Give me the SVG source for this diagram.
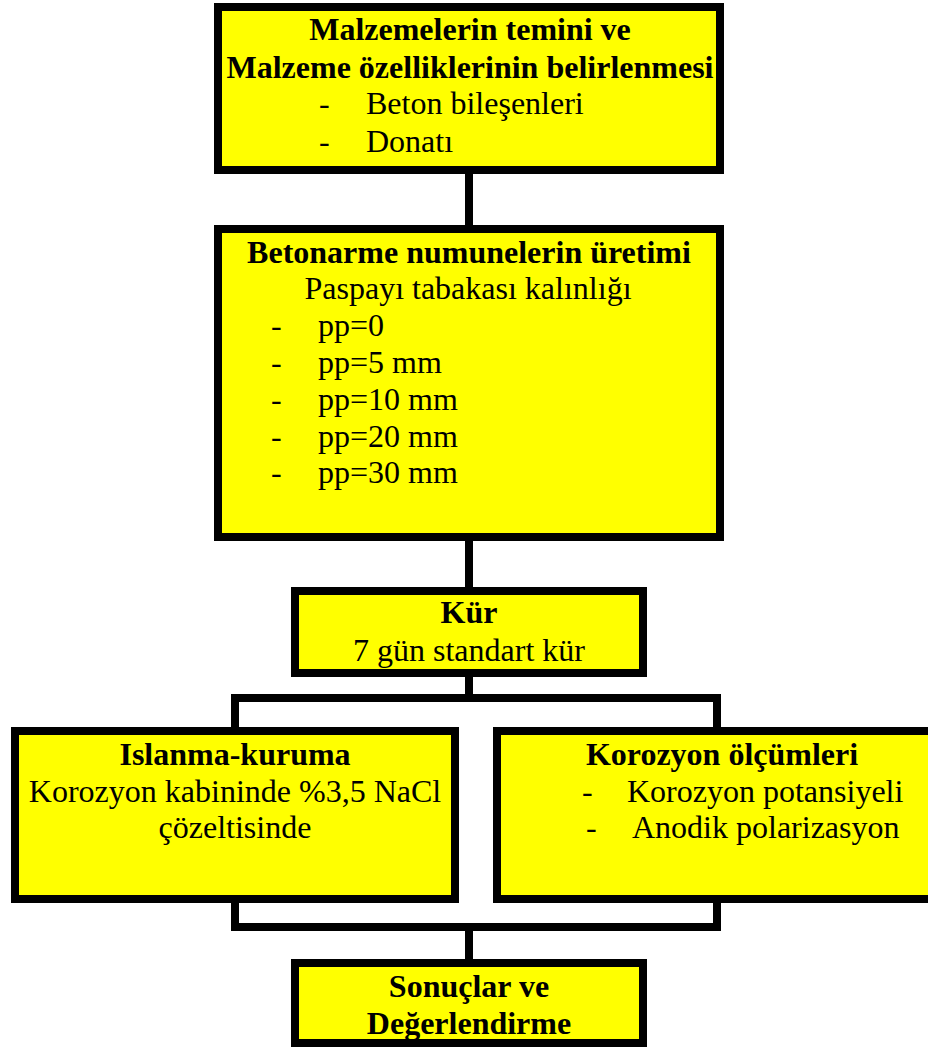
<svg xmlns="http://www.w3.org/2000/svg" width="928" height="1048" viewBox="0 0 928 1048">
  <style>
    .box { fill: #FFFF00; stroke: #000000; stroke-width: 8; }
    .wire { fill: none; stroke: #000000; stroke-width: 8; stroke-linecap: butt; stroke-linejoin: miter; }
    text { font-family: "Liberation Serif", "Times New Roman", serif; font-size: 32px; fill: #000000; }
    .b { font-weight: bold; }
    .c { text-anchor: middle; }
  </style>
  <rect width="928" height="1048" fill="#FFFFFF"/>

  <!-- connectors -->
  <g id="connectors">
    <line class="wire" x1="469" y1="174" x2="469" y2="225"/>
    <line class="wire" x1="469" y1="541" x2="469" y2="587"/>
    <line class="wire" x1="469" y1="677" x2="469" y2="698"/>
    <path class="wire" d="M235,727 V698 H717 V727"/>
    <path class="wire" d="M235,903 V927 H717 V903"/>
    <line class="wire" x1="469" y1="927" x2="469" y2="959"/>
  </g>

  <g id="malzeme">
    <rect class="box" x="218" y="7" width="502" height="163"/>
    <text class="b c" x="470" y="40">Malzemelerin temini ve</text>
    <text class="b c" x="470" y="78">Malzeme özelliklerinin belirlenmesi</text>
    <text x="319" y="114">-</text>
    <text x="366" y="114">Beton bileşenleri</text>
    <text x="319" y="152">-</text>
    <text x="366" y="152">Donatı</text>
  </g>

  <g id="uretim">
    <rect class="box" x="218" y="229" width="502" height="308"/>
    <text class="b c" x="469" y="263">Betonarme numunelerin üretimi</text>
    <text class="c" x="468" y="299">Paspayı tabakası kalınlığı</text>
    <text x="271" y="336">-</text>
    <text x="318" y="336">pp=0</text>
    <text x="271" y="373">-</text>
    <text x="318" y="373">pp=5 mm</text>
    <text x="271" y="410">-</text>
    <text x="318" y="410">pp=10 mm</text>
    <text x="271" y="447">-</text>
    <text x="318" y="447">pp=20 mm</text>
    <text x="271" y="483">-</text>
    <text x="318" y="483">pp=30 mm</text>
  </g>

  <g id="kur">
    <rect class="box" x="295" y="591" width="348" height="82"/>
    <text class="b c" x="469" y="623">Kür</text>
    <text class="c" x="469" y="661">7 gün standart kür</text>
  </g>

  <g id="islanma">
    <rect class="box" x="15" y="731" width="440" height="168"/>
    <text class="b c" x="235" y="765">Islanma-kuruma</text>
    <text class="c" x="235" y="802">Korozyon kabininde %3,5 NaCl</text>
    <text class="c" x="235" y="838">çözeltisinde</text>
  </g>

  <g id="olcumler">
    <rect class="box" x="497" y="731" width="440" height="168"/>
    <text class="b c" x="722" y="765">Korozyon ölçümleri</text>
    <text x="582" y="802">-</text>
    <text x="627" y="802">Korozyon potansiyeli</text>
    <text x="586" y="838">-</text>
    <text x="632" y="838">Anodik polarizasyon</text>
  </g>

  <g id="sonuclar">
    <rect class="box" x="295" y="963" width="348" height="80"/>
    <text class="b c" x="469" y="997">Sonuçlar ve</text>
    <text class="b c" x="469" y="1034">Değerlendirme</text>
  </g>
</svg>
